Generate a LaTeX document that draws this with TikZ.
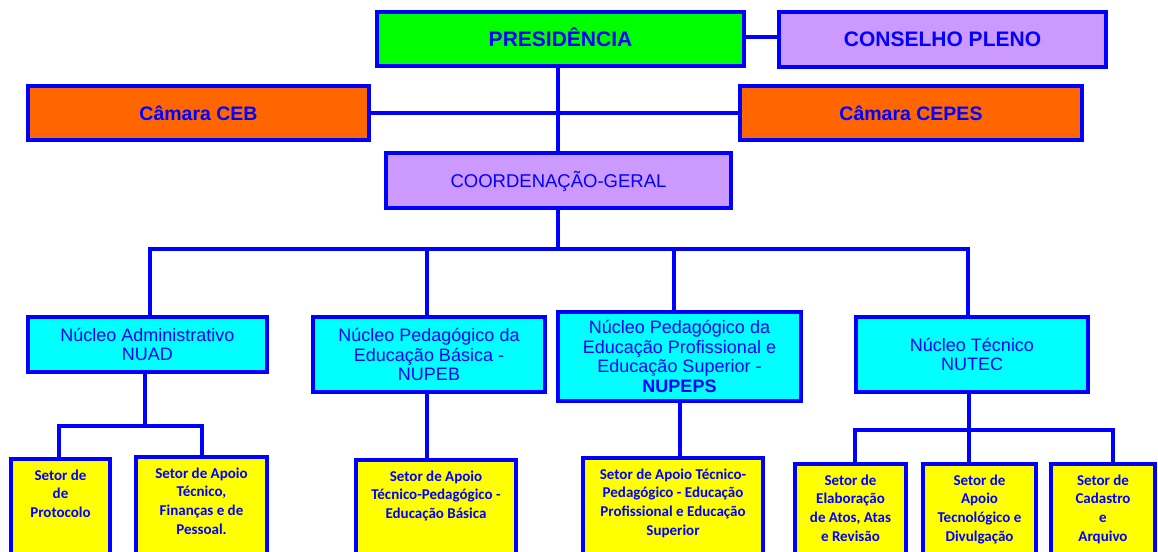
\documentclass[tikz,border=0pt]{standalone}
\usepackage{fontspec}
\setmainfont{Liberation Sans}
\newfontfamily\calib{Carlito}
\definecolor{bblue}{RGB}{0,0,255}
\definecolor{ggreen}{RGB}{0,255,0}
\definecolor{llav}{RGB}{204,153,255}
\definecolor{oorange}{RGB}{255,102,0}
\definecolor{ccyan}{RGB}{0,255,255}
\definecolor{yyellow}{RGB}{255,255,0}
\begin{document}
\begin{tikzpicture}[x=1pt,y=-1pt,
  box/.style={draw=bblue, line width=4pt, inner sep=0pt, outer sep=0pt, text=bblue, align=center},
  topbox/.style={box, font=\fontsize{21}{24}\selectfont\bfseries, text height=15pt, text depth=0pt},
  cambox/.style={box, fill=oorange, font=\fontsize{19.5}{23}\selectfont\bfseries, text height=14pt, text depth=0pt},
  nuc/.style={box, fill=ccyan, font=\fontsize{18}{19.5}\selectfont},
  ybox/.style={draw=bblue, line width=4pt, fill=yyellow, inner sep=0pt, outer sep=0pt, anchor=north, minimum height=110pt},
  ytext/.style={text=bblue, align=center, inner sep=0pt, outer sep=0pt, anchor=north, yshift=-10.5pt,
    font=\calib\bfseries\fontsize{15}{18.9}\selectfont, execute at begin node={\rule{0pt}{12pt}}},
  link/.style={draw=bblue, line width=4pt}]
\useasboundingbox (0,0) rectangle (1158,551);
\clip (0,0) rectangle (1158,551);

% top level
\node[topbox, fill=ggreen, minimum width=367pt, minimum height=54pt] (pres) at (560.5,39) {PRESIDÊNCIA};
\node[topbox, fill=llav, minimum width=327pt, minimum height=55pt] (cons) at (942.5,39.5) {CONSELHO PLENO};
\node[cambox, minimum width=341pt, minimum height=54pt] (ceb) at (198.5,113) {Câmara CEB};
\node[cambox, minimum width=342pt, minimum height=54pt] (cepes) at (911,113) {Câmara CEPES};
\node[box, fill=llav, font=\fontsize{18.5}{22}\selectfont, text height=13.2pt, text depth=0pt,
      minimum width=345pt, minimum height=55pt] (coord) at (558.5,180.5) {COORDENAÇÃO-GERAL};

% nucleos
\node[nuc, minimum width=239pt, minimum height=55pt] (nuad) at (147.5,344.5) {Núcleo Administrativo\\NUAD};
\node[nuc, minimum width=232pt, minimum height=75pt] (nupeb) at (429,354.5) {Núcleo Pedagógico da\\Educação Básica -\\NUPEB};
\node[nuc, minimum width=243pt, minimum height=89pt] (nupeps) at (679.5,356.5) {Núcleo Pedagógico da\\Educação Profissional e\\Educação Superior -\\\textbf{NUPEPS}};
\node[nuc, minimum width=232pt, minimum height=75pt] (nutec) at (972,354.5) {Núcleo Técnico\\NUTEC};

% setores
\node[ybox, minimum width=99pt] (s1) at (60.5,459) {};
\node[ytext] (s1t) at (s1.north) {Setor de\\de\\Protocolo};
\node[ybox, minimum width=131pt] (s2) at (201.5,457) {};
\node[ytext] (s2t) at (s2.north) {Setor de Apoio\\Técnico,\\Finanças e de\\Pessoal.};
\node[ybox, minimum width=160pt] (s3) at (436,460) {};
\node[ytext] (s3t) at (s3.north) {Setor de Apoio\\Técnico-Pedagógico -\\Educação Básica};
\node[ybox, minimum width=180pt] (s4) at (673,458) {};
\node[ytext] (s4t) at (s4.north) {Setor de Apoio Técnico-\\Pedagógico - Educação\\Profissional e Educação\\Superior};
\node[ybox, minimum width=111pt] (s6) at (850.5,464) {};
\node[ytext] (s6t) at (s6.north) {Setor de\\Elaboração\\de Atos, Atas\\e Revisão};
\node[ybox, minimum width=113pt] (s7) at (979.5,464) {};
\node[ytext] (s7t) at (s7.north) {Setor de\\Apoio\\Tecnológico e\\Divulgação};
\node[ybox, minimum width=104pt] (s8) at (1103,464) {};
\node[ytext] (s8t) at (s8.north) {Setor de\\Cadastro\\e\\Arquivo};

% connectors top
\coordinate (pc) at (0,37);
\draw[link] (pres.east |- pc) -- (cons.west |- pc);
\draw[link] (ceb.east) -- (cepes.west);
\coordinate (t1) at (558,249);
\draw[link] (pres.south -| t1) -- (coord.north -| t1);
\draw[link] (coord.south -| t1) -- (t1);

% bus to nucleos
\coordinate (bl) at (150,249);
\coordinate (br) at (968,249);
\coordinate (d2) at (427,249);
\coordinate (d3) at (674,249);
\draw[link] (bl |- nuad.north) -- (bl) -- (br) -- (br |- nutec.north);
\draw[link] (d2) -- (d2 |- nupeb.north);
\draw[link] (d3) -- (d3 |- nupeps.north);

% NUAD sub
\coordinate (ua) at (145,426);
\coordinate (ual) at (59,426);
\coordinate (uar) at (202,426);
\draw[link] (ua |- nuad.south) -- (ua);
\draw[link] (ual |- s1.north) -- (ual) -- (uar) -- (uar |- s2.north);

% NUPEB / NUPEPS sub
\coordinate (e2) at (427,430);
\coordinate (e3) at (680,430);
\draw[link] (e2 |- nupeb.south) -- (e2 |- s3.north);
\draw[link] (e3 |- nupeps.south) -- (e3 |- s4.north);

% NUTEC sub
\coordinate (ta) at (969,430);
\coordinate (tal) at (855,430);
\coordinate (tar) at (1113,430);
\draw[link] (ta |- nutec.south) -- (ta) -- (ta |- s7.north);
\draw[link] (tal |- s6.north) -- (tal) -- (tar) -- (tar |- s8.north);
\end{tikzpicture}
\end{document}
